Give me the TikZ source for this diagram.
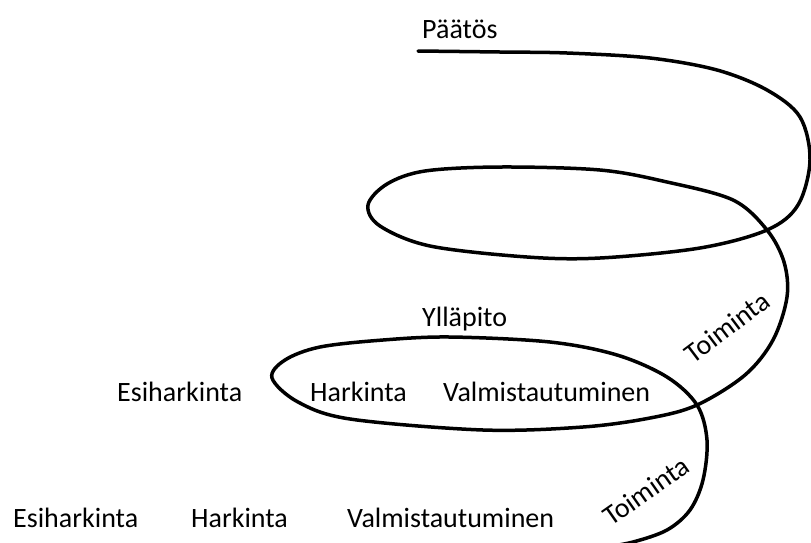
\documentclass[tikz,border=0pt]{standalone}
\usepackage{fontspec}
\setmainfont{Carlito}
\usepackage{tikz}
\usetikzlibrary{positioning}
\definecolor{spiralColor}{RGB}{0, 0, 0}
\definecolor{labelColor}{RGB}{0, 0, 0}
\tikzset{
    phase_label/.style={
        inner sep=0pt,
        text=labelColor,
        font=\fontsize{28}{33}\selectfont,
        anchor=base west
    },
    action_label/.style={
        phase_label,
        anchor=center
    },
    spiral_line/.style={
        draw=spiralColor,
        line width=3.5pt,
        line cap=round,
        line join=round
    }
}
\begin{document}
\begin{tikzpicture}[x=1pt, y=-1pt]
        \useasboundingbox (0,0) rectangle (811,542);
        \clip (0,0) rectangle (811,542);

        % the spiral, from the bottom end up to the decision line
        \draw[spiral_line] plot[smooth, tension=0.55] coordinates {
            (600,548) (633,542) (667,530) (690,510) (703,480) (707,440)
            (697,405) (667,377) (617,355) (550,342) (450,337) (383,340)
            (320,347) (285,360) (272,378) (298,402) (350,419) (483,430)
            (583,427) (650,418) (697,405) (745,375) (773,340) (787,297)
            (784,262) (767,230) (733,200) (667,182) (600,170) (500,167)
            (425,171) (387,184) (368,205) (380,226) (430,246) (527,257)
            (600,258) (700,248) (767,230) (798,205) (810,160) (800,117)
            (767,90) (717,70) (650,58) (567,53) (500,52) (418,51)};

        % labels
        \node[phase_label] (paatos) at (422,38) {Päätös};
        \node[phase_label] (yllapito) at (422,326) {Ylläpito};
        \node[phase_label] (esi1) at (117,401) {Esiharkinta};
        \node[phase_label] (hark1) at (310,401) {Harkinta};
        \node[phase_label] (valm1) at (443,401) {Valmistautuminen};
        \node[phase_label] (esi0) at (13,527) {Esiharkinta};
        \node[phase_label] (hark0) at (191,527) {Harkinta};
        \node[phase_label] (valm0) at (347,527) {Valmistautuminen};
        \node[action_label, rotate=37] (toim1) at (727,327) {Toiminta};
        \node[action_label, rotate=35] (toim0) at (646,491) {Toiminta};
    \end{tikzpicture}
\end{document}
